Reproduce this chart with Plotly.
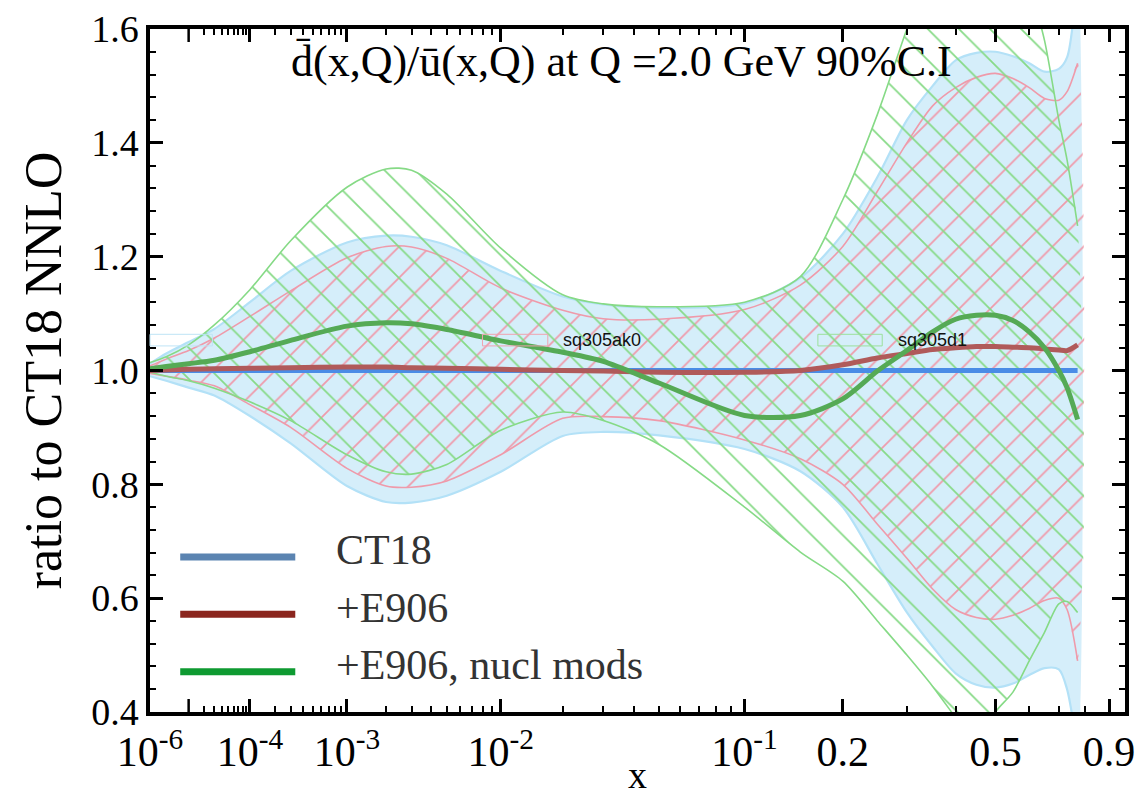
import plotly.graph_objects as go

# ---------------- data ----------------
x_vals = [1e-6, 3e-6, 1e-5, 3e-5, 1e-4, 3e-4, 1e-3, 2e-3, 3e-3, 5e-3, 1e-2, 2e-2, 3e-2, 5e-2,
          0.1, 0.15, 0.2, 0.25, 0.3, 0.35, 0.4, 0.45, 0.5, 0.55, 0.6, 0.65, 0.7, 0.73, 0.77]

ct18_central = [1.0, 1.0, 1.0, 1.0, 1.0, 1.0, 1.0, 1.0, 1.0, 1.0, 1.0, 1.0, 1.0, 1.0,
                1.0, 1.0, 1.0, 1.0, 1.0, 1.0, 1.0, 1.0, 1.0, 1.0, 1.0, 1.0, 1.0, 1.0, 1.0]
ct18_upper = [1.012, 1.03, 1.05, 1.073, 1.12, 1.175, 1.225, 1.237, 1.235, 1.22, 1.175, 1.13, 1.116, 1.11,
              1.118, 1.163, 1.24, 1.34, 1.44, 1.50, 1.545, 1.558, 1.56, 1.552, 1.54, 1.525, 1.53, 1.55, 1.70]
ct18_lower = [0.990, 0.982, 0.970, 0.956, 0.92, 0.872, 0.797, 0.769, 0.768, 0.780, 0.822, 0.885, 0.892, 0.886,
              0.862, 0.823, 0.76, 0.66, 0.575, 0.515, 0.468, 0.448, 0.443, 0.450, 0.465, 0.477, 0.475, 0.44, 0.33]

e906_central = [1.0, 1.001, 1.002, 1.003, 1.004, 1.005, 1.006, 1.006, 1.005, 1.004, 1.002, 1.0, 0.999, 0.997,
                0.997, 1.0, 1.01, 1.022, 1.03, 1.037, 1.04, 1.042, 1.042, 1.041, 1.040, 1.038, 1.036, 1.035, 1.045]
e906_upper = [1.008, 1.02, 1.035, 1.057, 1.095, 1.14, 1.198, 1.218, 1.217, 1.197, 1.145, 1.106, 1.091, 1.090,
              1.107, 1.15, 1.218, 1.315, 1.40, 1.465, 1.497, 1.515, 1.522, 1.513, 1.497, 1.478, 1.475, 1.49, 1.54]
e906_lower = [0.995, 0.99, 0.983, 0.973, 0.94, 0.90, 0.828, 0.797, 0.795, 0.806, 0.852, 0.916, 0.919, 0.912,
              0.878, 0.845, 0.80, 0.73, 0.67, 0.616, 0.58, 0.566, 0.563, 0.57, 0.582, 0.596, 0.60, 0.58, 0.49]

nucl_central = [1.003, 1.007, 1.012, 1.018, 1.033, 1.053, 1.078, 1.084, 1.082, 1.072, 1.052, 1.032, 1.016, 0.978,
                0.921, 0.921, 0.95, 0.999, 1.035, 1.068, 1.09, 1.097, 1.097, 1.088, 1.068, 1.04, 1.00, 0.97, 0.914]
nucl_upper = [1.014, 1.024, 1.045, 1.08, 1.142, 1.228, 1.322, 1.354, 1.352, 1.31, 1.215, 1.133, 1.117, 1.112,
              1.12, 1.165, 1.30, 1.45, 1.60, 1.72, 1.80, 1.84, 1.84, 1.78, 1.68, 1.58, 1.44, 1.37, 1.254]
nucl_lower = [0.997, 0.99, 0.982, 0.969, 0.945, 0.912, 0.852, 0.822, 0.818, 0.835, 0.895, 0.927, 0.912, 0.87,
              0.76, 0.681, 0.63, 0.56, 0.50, 0.445, 0.39, 0.34, 0.40, 0.435, 0.49, 0.54, 0.59, 0.594, 0.575]

series_names = ["CT18", "+E906", "+E906, nucl mods"]

x_major_ticks = [1e-6, 1e-4, 1e-3, 1e-2, 1e-1, 0.2, 0.5, 0.9]
x_major_labels = ["10<sup>-6</sup>", "10<sup>-4</sup>", "10<sup>-3</sup>", "10<sup>-2</sup>",
                  "10<sup>-1</sup>", "0.2", "0.5", "0.9"]
x_unlabeled_major = [1e-5]
x_minor_ticks = [2e-5, 3e-5, 4e-5, 5e-5, 6e-5, 7e-5, 8e-5, 9e-5,
                 2e-4, 3e-4, 4e-4, 5e-4, 6e-4, 7e-4, 8e-4, 9e-4,
                 2e-3, 3e-3, 4e-3, 5e-3, 6e-3, 7e-3, 8e-3, 9e-3,
                 2e-2, 3e-2, 4e-2, 5e-2, 6e-2, 7e-2, 8e-2, 9e-2,
                 0.3, 0.4, 0.6, 0.7, 0.8]
x_range = [1e-6, 0.972]
y_ticks = [0.4, 0.6, 0.8, 1.0, 1.2, 1.4, 1.6]
y_labels = ["0.4", "0.6", "0.8", "1.0", "1.2", "1.4", "1.6"]

# ---------------- helpers ----------------
P = 0.2  # axis is linear in x**0.2


def tr(v):
    return [a ** P for a in v]


U = tr(x_vals)

SERIF = "Liberation Serif"
SM = 0.8
fig = go.Figure()


def band(upper, lower, fillcolor=None, pattern=None):
    kw = dict(x=U + U[::-1], y=upper + lower[::-1], mode="lines", fill="toself",
              line=dict(width=0, shape="spline", smoothing=SM), hoverinfo="skip", showlegend=False)
    if pattern is not None:
        kw["fillcolor"] = "rgba(0,0,0,0)"
        kw["fillpattern"] = pattern
    else:
        kw["fillcolor"] = fillcolor
    fig.add_trace(go.Scatter(**kw))


def edge(vals, color, width):
    fig.add_trace(go.Scatter(x=U, y=vals, mode="lines",
                             line=dict(color=color, width=width, shape="spline", smoothing=SM),
                             hoverinfo="skip", showlegend=False))


# CT18 band
band(ct18_upper, ct18_lower, fillcolor="#d5eefa")
edge(ct18_upper, "#b3e1f7", 2.2)
edge(ct18_lower, "#b3e1f7", 2.2)
# +E906 band (pink "/" hatch)
band(e906_upper, e906_lower, pattern=dict(shape="/", fgcolor="#ef9aaa", bgcolor="rgba(0,0,0,0)",
                                          size=22, solidity=0.08, fgopacity=1))
edge(e906_upper, "#ef9aaa", 1.6)
edge(e906_lower, "#ef9aaa", 1.6)
# nucl-mods band (green "\" hatch)
band(nucl_upper, nucl_lower, pattern=dict(shape="\\", fgcolor="#86da86", bgcolor="rgba(0,0,0,0)",
                                          size=22, solidity=0.08, fgopacity=1))
edge(nucl_upper, "#86da86", 1.6)
edge(nucl_lower, "#86da86", 1.6)

# central lines
fig.add_trace(go.Scatter(x=U, y=ct18_central, mode="lines", name=series_names[0],
                         line=dict(color="#4a8ce6", width=5), showlegend=False))
fig.add_trace(go.Scatter(x=U, y=e906_central, mode="lines", name=series_names[1],
                         line=dict(color="#b05a5a", width=5, shape="spline", smoothing=SM),
                         showlegend=False))
fig.add_trace(go.Scatter(x=U, y=nucl_central, mode="lines", name=series_names[2],
                         line=dict(color="#55aa55", width=5, shape="spline", smoothing=SM),
                         showlegend=False))

# unlabeled major tick at 1e-5 (bottom and top)
for xv in tr(x_unlabeled_major):
    fig.add_shape(type="line", xref="x", yref="paper", x0=xv, x1=xv, y0=0, y1=0.019,
                  line=dict(color="black", width=2.5))
    fig.add_shape(type="line", xref="x", yref="paper", x0=xv, x1=xv, y0=0.981, y1=1,
                  line=dict(color="black", width=2.5))

# ---------------- custom legend (long line swatches) ----------------
legend_colors = ["#5b84b1", "#8b261e", "#0e9a31"]
legend_y = [0.227, 0.143, 0.059]
for name, col, yy in zip(series_names, legend_colors, legend_y):
    fig.add_shape(type="line", xref="paper", yref="paper", x0=0.031, x1=0.149, y0=yy, y1=yy,
                  line=dict(color=col, width=7))
    fig.add_annotation(xref="paper", yref="paper", x=0.189, y=yy + 0.01, text=name, showarrow=False,
                       xanchor="left", yanchor="middle",
                       font=dict(family=SERIF, size=42, color="#333333"))

# stray legend remnants seen in the picture
for (x0, x1, col) in [(0.0, 0.064, "#bfe4f6"), (0.341, 0.408, "#efa3b0"), (0.685, 0.751, "#9be09b")]:
    fig.add_shape(type="rect", xref="paper", yref="paper", x0=x0, x1=x1, y0=0.536, y1=0.553,
                  line=dict(color=col, width=1), fillcolor="rgba(0,0,0,0)")
for (xx, txt) in [(0.422, "sq305ak0"), (0.765, "sq305d1")]:
    fig.add_annotation(xref="paper", yref="paper", x=xx, y=0.545, text=txt, showarrow=False,
                       xanchor="left", yanchor="middle",
                       font=dict(family="Liberation Sans", size=18, color="#111111"))

# title inside plot
fig.add_annotation(xref="paper", yref="paper", x=0.484, y=0.952,
                   text="d\u0304(x,Q)/u\u0304(x,Q) at Q =2.0 GeV 90%C.I", showarrow=False,
                   xanchor="center", yanchor="middle",
                   font=dict(family=SERIF, size=44, color="black"))

fig.update_layout(
    width=1136, height=796,
    margin=dict(l=150, r=11, t=29, b=84, autoexpand=False),
    paper_bgcolor="white", plot_bgcolor="white",
    showlegend=False,
    font=dict(family=SERIF, color="black"),
    xaxis=dict(
        range=tr(x_range), showgrid=False, zeroline=False, automargin=False,
        showline=True, linecolor="black", linewidth=3.5, mirror="ticks",
        ticks="inside", ticklen=13, tickwidth=2.5, tickcolor="black",
        tickmode="array", tickvals=tr(x_major_ticks), ticktext=x_major_labels,
        tickfont=dict(family=SERIF, size=42, color="black"),
        minor=dict(tickmode="array", tickvals=tr(x_minor_ticks), ticks="inside",
                   ticklen=6, tickwidth=2, tickcolor="black", showgrid=False),
        title=dict(text="x", font=dict(family=SERIF, size=38, color="black"), standoff=2),
    ),
    yaxis=dict(
        range=[0.4, 1.6], showgrid=False, zeroline=False, automargin=False,
        showline=True, linecolor="black", linewidth=3.5, mirror="ticks",
        ticks="inside", ticklen=13, tickwidth=2.5, tickcolor="black",
        tickmode="array", tickvals=y_ticks, ticktext=y_labels,
        tickfont=dict(family=SERIF, size=38, color="black"),
        minor=dict(dtick=0.04, ticks="inside", ticklen=6, tickwidth=2, tickcolor="black",
                   showgrid=False),
        title=dict(text="ratio to CT18 NNLO", font=dict(family=SERIF, size=52, color="black"),
                   standoff=14),
    ),
)

fig.write_html("out.html")
